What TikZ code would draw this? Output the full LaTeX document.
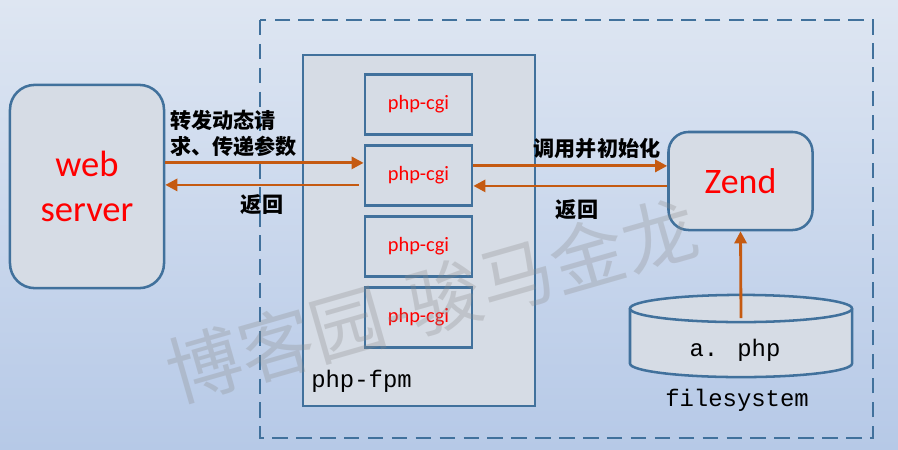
\documentclass[tikz,border=0pt]{standalone}
\usepackage{fontspec}
\setmainfont{Carlito}
\newfontfamily\cjkfont{Noto Sans CJK SC}
\newfontfamily\fsmono{Liberation Mono}
\usetikzlibrary{arrows.meta}

\definecolor{boxblue}{HTML}{41719C}
\definecolor{boxfill}{HTML}{D6DCE5}
\definecolor{flowc}{HTML}{C55A11}
\definecolor{bgtop}{HTML}{DEE6F2}
\definecolor{bgbot}{HTML}{B6C9E7}

\tikzset{
  box/.style={draw=boxblue, line width=1.8pt, fill=boxfill},
  flow/.style={draw=flowc, line width=2pt, -{Triangle[length=0.3cm, width=0.3cm]}},
  lbl/.style={font=\cjkfont\bfseries\fontsize{15}{18.5}\selectfont, align=left, inner sep=0pt},
  monotext/.style={font=\fsmono\fontsize{17}{17}\selectfont, inner sep=0pt},
}

\begin{document}
\begin{tikzpicture}[x=0.025cm, y=-0.025cm]
% Background
\shade[top color=bgtop, bottom color=bgbot] (0,0) rectangle (898,449);

% Outer dashed frame
\draw[boxblue, line width=1.8pt, dash pattern=on 11pt off 6pt] (260,20) rectangle (873,438);

% web server
\node[box, rounded corners=0.62cm, minimum width=3.85cm, minimum height=5.08cm,
      text=red, align=center, font=\fontsize{26}{32}\selectfont] (ws) at (87,186.5) {web\\server};

% php-fpm with its workers
\node[box, minimum width=5.8cm, minimum height=8.78cm] (fpm) at (419,230.5) {};
\node[monotext, anchor=base west] (fpmlbl) at (311,387) {php-fpm};
\foreach \i in {1,...,4} {
    \node[box, minimum width=2.68cm, minimum height=1.5cm, text=red,
          font=\fontsize{14.5}{14.5}\selectfont] (cgi\i) at (418.5,33.5+71*\i) {php-cgi};
}

% Zend
\node[box, rounded corners=0.5cm, minimum width=3.6cm, minimum height=2.45cm,
      text=red, font=\fontsize{25.5}{25.5}\selectfont] (zend) at (740.5,181) {Zend};

% filesystem
\draw[box] (630,308.5) -- (630,363.5) arc[start angle=180, end angle=360, x radius=2.775cm, y radius=0.34cm] -- (852,308.5);
\draw[box] (741,308.5) ellipse[x radius=2.775cm, y radius=0.34cm];
\coordinate (fstop) at (741,318);
\node[monotext, anchor=base] (fsfile) at (735,356) {a. php};
\node[monotext, anchor=base] (fsname) at (737,406) {filesystem};

% Connectors
\coordinate (wsout) at ([yshift=0.59cm]ws.east);
\coordinate (wsin) at ([yshift=0.04cm]ws.east);
\coordinate (cgiout) at ([yshift=0.24cm]cgi2.east);
\coordinate (cgiin) at ([yshift=-0.26cm]cgi2.east);
\draw[flow] (wsout) -- (wsout -| cgi2.west);
\draw[flow] ([xshift=-0.12cm]wsin -| cgi2.west) -- (wsin);
\draw[flow] (cgiout) -- (cgiout -| zend.west);
\draw[flow] (cgiin -| zend.west) -- (cgiin);
\draw[flow] (fstop) -- (zend.south);

% Labels
\node[lbl, anchor=west] (fwdlbl) at (170,133) {转发动态请\\求、传递参数};
\node[lbl] (backlbl) at (262,205) {返回};
\node[lbl] (calllbl) at (597,148) {调用并初始化};
\node[lbl] (retlbl) at (577,210) {返回};

% Watermark
\node[rotate=16, text=black!45, opacity=0.3, font=\cjkfont\fontsize{53}{53}\selectfont] (mark) at (432,300) {博客园-骏马金龙};
\end{tikzpicture}
\end{document}
